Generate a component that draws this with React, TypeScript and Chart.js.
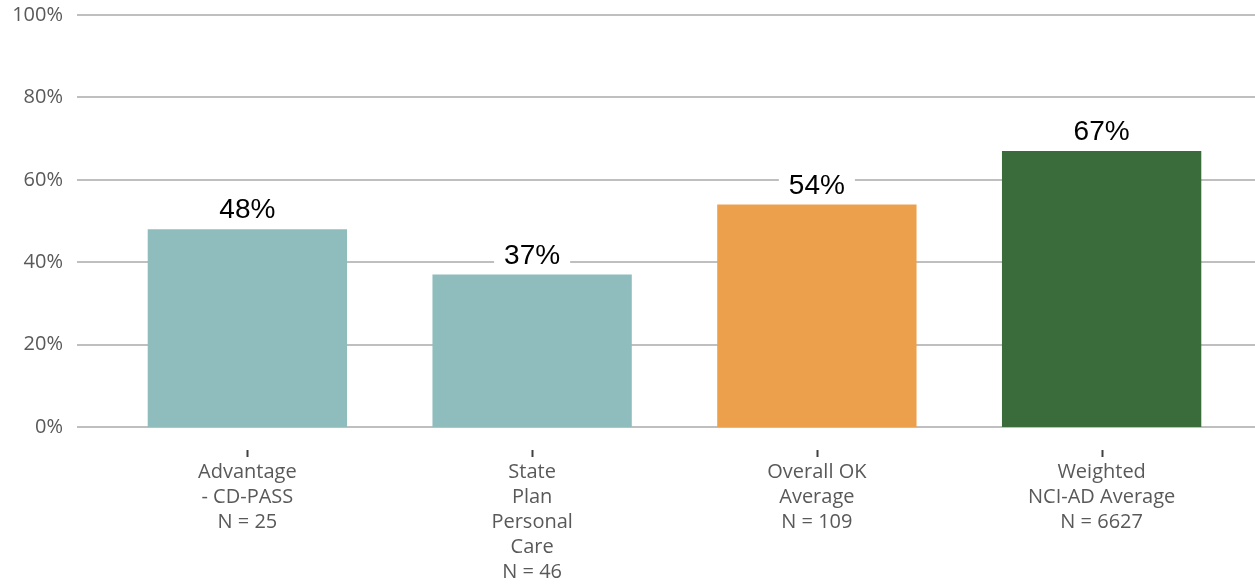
import React, { useEffect, useRef } from "react";
import { Chart, registerables } from "chart.js";

Chart.register(...registerables);

const categories: string[][] = [
  ["Advantage", "- CD-PASS", "N = 25"],
  ["State", "Plan", "Personal", "Care", "N = 46"],
  ["Overall OK", "Average", "N = 109"],
  ["Weighted", "NCI-AD Average", "N = 6627"],
];
const values: number[] = [48, 37, 54, 67];
const barColors: string[] = ["#8FBCBC", "#8FBCBC", "#ECA04C", "#3A6B3A"];
const yTicks: number[] = [0, 20, 40, 60, 80, 100];

const TEXT = "#595959";
const GRID = "#BFBFBF";

const gridPlugin = {
  id: "customGrid",
  beforeDatasetsDraw(chart: any) {
    const { ctx } = chart;
    const y = chart.scales.y;
    ctx.save();
    ctx.strokeStyle = GRID;
    ctx.lineWidth = 2;
    yTicks.forEach((v) => {
      const py = Math.round(y.getPixelForValue(v));
      ctx.beginPath();
      ctx.moveTo(77, py);
      ctx.lineTo(chart.width, py);
      ctx.stroke();
    });
    // tick marks under category centers
    const x = chart.scales.x;
    ctx.strokeStyle = "#404040";
    ctx.lineWidth = 2;
    categories.forEach((_, i) => {
      const px = Math.round(x.getPixelForValue(i)) + 0.5;
      ctx.beginPath();
      ctx.moveTo(px, chart.chartArea.bottom + 23);
      ctx.lineTo(px, chart.chartArea.bottom + 30);
      ctx.stroke();
    });
    ctx.restore();
  },
};

const labelPlugin = {
  id: "valueLabels",
  afterDatasetsDraw(chart: any) {
    const { ctx } = chart;
    const meta = chart.getDatasetMeta(0);
    ctx.save();
    ctx.font = "28px 'Liberation Sans', Arial, sans-serif";
    ctx.textAlign = "center";
    ctx.textBaseline = "alphabetic";
    meta.data.forEach((bar: any, i: number) => {
      const text = values[i] + "%";
      const w = ctx.measureText(text).width;
      const base = bar.y - 11;
      ctx.fillStyle = "#FFFFFF";
      ctx.fillRect(bar.x - w / 2 - 10, base - 26, w + 20, 31);
      ctx.fillStyle = "#000000";
      ctx.fillText(text, bar.x, base);
    });
    ctx.restore();
  },
};

export default function App() {
  const ref = useRef<HTMLCanvasElement | null>(null);
  useEffect(() => {
    document.body.style.margin = "0";
    if (!ref.current) return;
    const chart = new Chart(ref.current, {
      type: "bar",
      data: {
        labels: categories,
        datasets: [
          {
            data: values,
            backgroundColor: barColors,
            borderWidth: 0,
            categoryPercentage: 1,
            barPercentage: 0.7,
          },
        ],
      },
      options: {
        animation: false,
        responsive: true,
        maintainAspectRatio: false,
        layout: { padding: { top: 15, right: 11, left: 0, bottom: 0 } },
        plugins: {
          legend: { display: false },
          tooltip: { enabled: false },
        },
        scales: {
          x: {
            grid: { display: false, drawTicks: false },
            border: { display: false },
            ticks: {
              color: TEXT,
              padding: 33,
              maxRotation: 0,
              autoSkip: false,
              font: { family: "'Open Sans', sans-serif", size: 20, lineHeight: 1.25 },
            },
            afterFit(scale: any) {
              scale.height = 159;
              scale.paddingLeft = 0;
              scale.paddingRight = 0;
            },
          },
          y: {
            min: 0,
            max: 100,
            grid: { display: false, drawTicks: false },
            border: { display: false },
            afterBuildTicks(scale: any) {
              scale.ticks = yTicks.map((v) => ({ value: v }));
            },
            ticks: {
              color: TEXT,
              padding: 42,
              font: { family: "'Open Sans', sans-serif", size: 20 },
              callback: (v: any) => v + "%",
            },
            afterFit(scale: any) {
              scale.width = 105;
              scale.paddingTop = 0;
              scale.paddingBottom = 0;
            },
          },
        },
      },
      plugins: [gridPlugin, labelPlugin],
    });
    return () => chart.destroy();
  }, []);
  return (
    <div style={{ width: 1255, height: 586, position: "relative" }}>
      <canvas ref={ref} />
    </div>
  );
}
